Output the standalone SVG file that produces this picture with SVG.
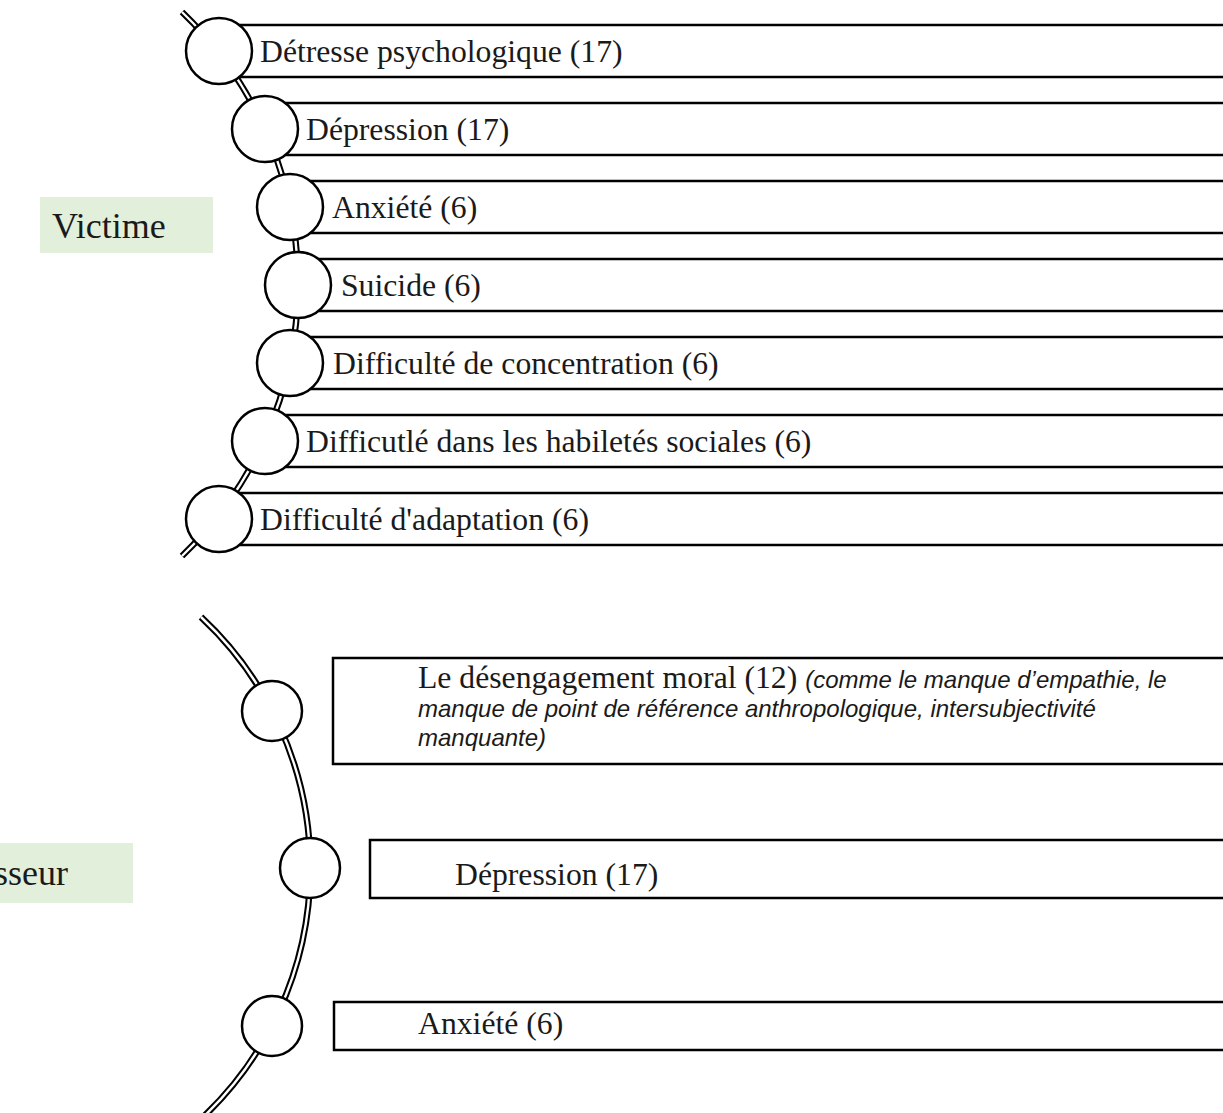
<svg xmlns="http://www.w3.org/2000/svg" width="1223" height="1113" viewBox="0 0 1223 1113">
<style>
.t{font-family:"Liberation Serif","DejaVu Serif",serif;font-size:31.7px;fill:#1a1a1a}
.it{font-family:"Liberation Sans","Noto Sans",sans-serif;font-style:italic;font-size:24px;fill:#1a1a1a}
.lbl{font-family:"Liberation Serif","DejaVu Serif",serif;font-size:36px;fill:#1a1a1a}
.bar{fill:#fff;stroke:#000;stroke-width:2.5}
.c{fill:#fff;stroke:#000;stroke-width:2.5}
.arcO{fill:none;stroke:#000;stroke-width:6.5}
.arcI{fill:none;stroke:#fff;stroke-width:2.4}
.tag{fill:#e2efda}
</style>
<rect width="1223" height="1113" fill="#fff"/>
<g id="connectors">
<path class="arcO" d="M182,12 A377,377 0 0,1 182,556"/>
<path class="arcI" d="M182,12 A377,377 0 0,1 182,556"/>
<path class="arcO" d="M201,617 A343,343 0 0,1 200,1120"/>
<path class="arcI" d="M201,617 A343,343 0 0,1 200,1120"/>
</g>
<g id="victime"><rect class="tag" x="40" y="197" width="173" height="56"/><text class="lbl" x="52" y="238">Victime</text></g>
<g id="agresseur"><rect class="tag" x="-100" y="843" width="233" height="60"/><text class="lbl" x="68" y="885" text-anchor="end">Agresseur</text></g>
<g id="v1"><rect class="bar" x="219" y="25" width="1030" height="52"/><circle class="c" cx="219" cy="51" r="33"/><text class="t" x="260" y="62">Détresse psychologique (17)</text></g>
<g id="v2"><rect class="bar" x="265" y="103" width="990" height="52"/><circle class="c" cx="265" cy="129" r="33"/><text class="t" x="306" y="140">Dépression (17)</text></g>
<g id="v3"><rect class="bar" x="290" y="181" width="960" height="52"/><circle class="c" cx="290" cy="207" r="33"/><text class="t" x="332" y="218">Anxiété (6)</text></g>
<g id="v4"><rect class="bar" x="298" y="259" width="950" height="52"/><circle class="c" cx="298" cy="285" r="33"/><text class="t" x="341" y="296">Suicide (6)</text></g>
<g id="v5"><rect class="bar" x="290" y="337" width="960" height="52"/><circle class="c" cx="290" cy="363" r="33"/><text class="t" x="333" y="374">Difficulté de concentration (6)</text></g>
<g id="v6"><rect class="bar" x="265" y="415" width="990" height="52"/><circle class="c" cx="265" cy="441" r="33"/><text class="t" x="306" y="452">Difficutlé dans les habiletés sociales (6)</text></g>
<g id="v7"><rect class="bar" x="219" y="493" width="1030" height="52"/><circle class="c" cx="219" cy="519" r="33"/><text class="t" x="260" y="530">Difficulté d'adaptation (6)</text></g>
<g id="a1"><circle class="c" cx="272" cy="711" r="30"/><rect class="bar" x="333" y="658" width="910" height="106"/>
<text x="418" y="688"><tspan class="t">Le désengagement moral (12) </tspan><tspan class="it">(comme le manque d’empathie, le</tspan></text>
<text class="it" x="418" y="717">manque de point de référence anthropologique, intersubjectivité</text>
<text class="it" x="418" y="746">manquante)</text></g>
<g id="a2"><circle class="c" cx="310" cy="868" r="30"/><rect class="bar" x="370" y="840" width="870" height="58"/><text class="t" x="455" y="885">Dépression (17)</text></g>
<g id="a3"><circle class="c" cx="272" cy="1026" r="30"/><rect class="bar" x="334" y="1002" width="900" height="48"/><text class="t" x="418" y="1034">Anxiété (6)</text></g>
</svg>
